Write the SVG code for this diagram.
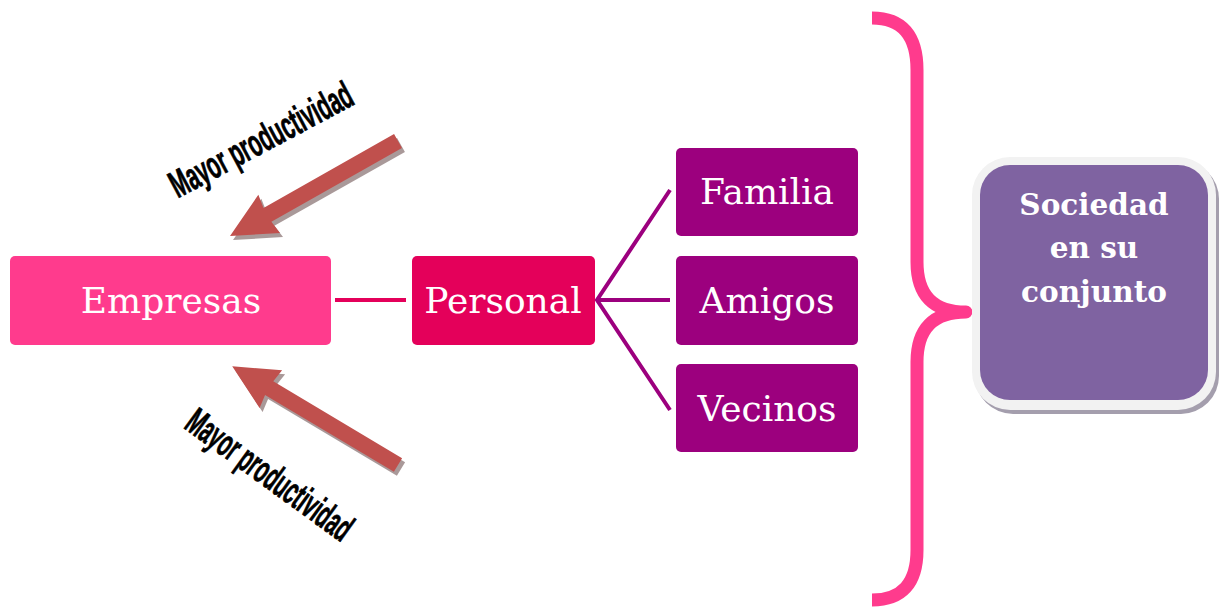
<svg xmlns="http://www.w3.org/2000/svg" width="1224" height="608" viewBox="0 0 1224 608">
<style>
.lbl{font-family:"DejaVu Serif","Liberation Serif",serif;font-size:36px;fill:#fff;text-anchor:middle}
.soc{font-family:"DejaVu Serif","Liberation Serif",serif;font-size:29.5px;font-weight:bold;fill:#fff;text-anchor:middle}
.mp{font-family:"Liberation Sans",Arial,sans-serif;font-size:38px;font-weight:bold;fill:#000;stroke:#000;stroke-width:0.8;text-anchor:middle}
.arr{fill:#C0504D}
.arrs{fill:#8C7777;opacity:0.75}
</style>
<defs>
<polygon id="arrow" points="0,-8 150,-8 148,-22 193,0 148,22 150,8 0,8"/>
</defs>
<rect width="1224" height="608" fill="#fff"/>
<g id="connectors" fill="none" stroke-width="4">
<line x1="335" y1="300" x2="406" y2="300" stroke="#E4005A"/>
<path d="M670,190 L597,300 L670,410 M597,300 L670,300" stroke="#9C007E"/>
<path d="M872,18 Q917,18 917,70 L917,262 Q917,312 966,312 Q917,312 917,362 L917,550 Q917,600 872,600" stroke="#FF3B8D" stroke-width="13" stroke-linejoin="round"/>
</g>
<g id="arrow-top">
<use href="#arrow" class="arrs" transform="translate(401,145) rotate(150.5)"/>
<use href="#arrow" class="arr" transform="translate(398,141) rotate(150.5)"/>
<text class="mp" x="0" y="0" textLength="202" lengthAdjust="spacingAndGlyphs" transform="translate(267,151) rotate(-28)">Mayor productividad</text>
</g>
<g id="arrow-bottom">
<use href="#arrow" class="arrs" transform="translate(401,469) rotate(-149.2)"/>
<use href="#arrow" class="arr" transform="translate(398,465) rotate(-149.2)"/>
<text class="mp" x="0" y="0" textLength="196" lengthAdjust="spacingAndGlyphs" transform="translate(262,485) rotate(36)">Mayor productividad</text>
</g>
<g id="empresas">
<rect x="10" y="256" width="321" height="89" rx="5" fill="#FF3B8D"/>
<text class="lbl" x="171" y="313">Empresas</text>
</g>
<g id="personal">
<rect x="412" y="256" width="183" height="89" rx="5" fill="#E4005A"/>
<text class="lbl" x="503" y="313">Personal</text>
</g>
<g id="familia">
<rect x="676" y="148" width="182" height="88" rx="5" fill="#9C007E"/>
<text class="lbl" x="767" y="204">Familia</text>
</g>
<g id="amigos">
<rect x="676" y="256" width="182" height="89" rx="5" fill="#9C007E"/>
<text class="lbl" x="767" y="313">Amigos</text>
</g>
<g id="vecinos">
<rect x="676" y="364" width="182" height="88" rx="5" fill="#9C007E"/>
<text class="lbl" x="767" y="421">Vecinos</text>
</g>
<g id="sociedad">
<rect x="975" y="161" width="244" height="253" rx="38" fill="#A49EAD"/>
<rect x="972" y="157" width="244" height="253" rx="38" fill="#F2F2F2"/>
<rect x="980" y="165" width="228" height="235" rx="30" fill="#7F63A1"/>
<text class="soc" x="1094" y="215">Sociedad</text>
<text class="soc" x="1094" y="258">en su</text>
<text class="soc" x="1094" y="302">conjunto</text>
</g>
</svg>
